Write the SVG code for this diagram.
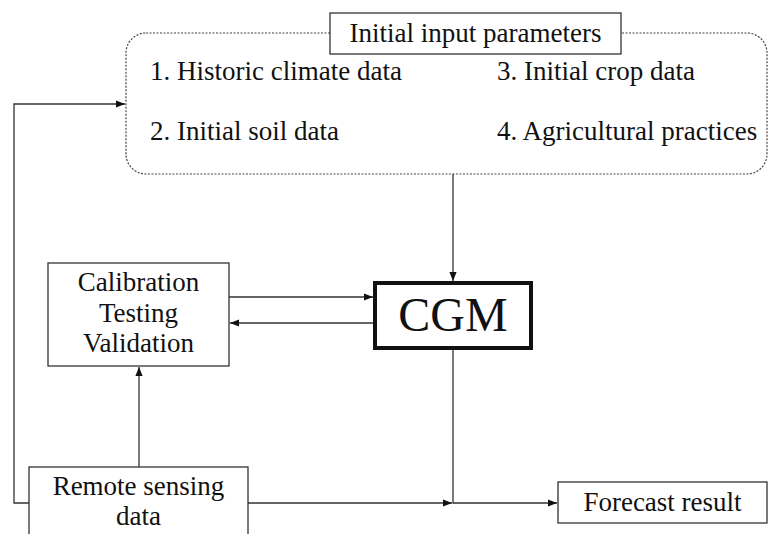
<svg xmlns="http://www.w3.org/2000/svg" width="768" height="534" viewBox="0 0 768 534">
<defs>
<style>
text{font-family:"Liberation Serif","DejaVu Serif",serif;fill:#111;}
.t{font-size:27px;}
.box{fill:#fff;stroke:#333;stroke-width:1.3;}
.ln{fill:none;stroke:#333;stroke-width:1.3;}
</style>
<marker id="ah" viewBox="0 0 10 10" refX="10" refY="5" markerWidth="9" markerHeight="9" markerUnits="userSpaceOnUse" orient="auto">
<path d="M0,1 L10,5 L0,9 z" fill="#111"/>
</marker>
</defs>
<rect width="768" height="534" fill="#fff"/>
<g id="connectors">
<path class="ln" d="M453,174 V281" marker-end="url(#ah)"/>
<path class="ln" d="M229,297 H373" marker-end="url(#ah)"/>
<path class="ln" d="M373,323 H230" marker-end="url(#ah)"/>
<path class="ln" d="M139,467 V367" marker-end="url(#ah)"/>
<path class="ln" d="M29,503 H14 V104 H125" marker-end="url(#ah)"/>
<path class="ln" d="M248,503 H452" marker-end="url(#ah)"/>
<path class="ln" d="M453,349 V503 H557" marker-end="url(#ah)"/>
</g>
<g id="inputs">
<rect x="126" y="33" width="641" height="141" rx="20" ry="20" fill="#fff" stroke="#444" stroke-width="1.2" stroke-dasharray="2,1.5"/>
<text class="t" x="150" y="80">1. Historic climate data</text>
<text class="t" x="150" y="140">2. Initial soil data</text>
<text class="t" x="497" y="80">3. Initial crop data</text>
<text class="t" x="497" y="140">4. Agricultural practices</text>
</g>
<g id="inputs-title">
<rect class="box" x="330" y="13" width="291" height="41"/>
<text class="t" x="475.5" y="42" text-anchor="middle">Initial input parameters</text>
</g>
<g id="calibration">
<rect class="box" x="48" y="263" width="181" height="103"/>
<text class="t" x="138.5" y="291" text-anchor="middle">Calibration</text>
<text class="t" x="138.5" y="322" text-anchor="middle">Testing</text>
<text class="t" x="138.5" y="352" text-anchor="middle">Validation</text>
</g>
<g id="cgm">
<rect x="375" y="283" width="156" height="65" fill="#fff" stroke="#111" stroke-width="4"/>
<text x="453" y="331" text-anchor="middle" style="font-size:48px">CGM</text>
</g>
<g id="remote">
<rect class="box" x="29" y="467" width="219" height="80"/>
<text class="t" x="138.5" y="495" text-anchor="middle">Remote sensing</text>
<text class="t" x="138.5" y="525" text-anchor="middle">data</text>
</g>
<g id="forecast">
<rect class="box" x="558" y="482" width="209" height="41"/>
<text class="t" x="662.5" y="511" text-anchor="middle">Forecast result</text>
</g>
</svg>
